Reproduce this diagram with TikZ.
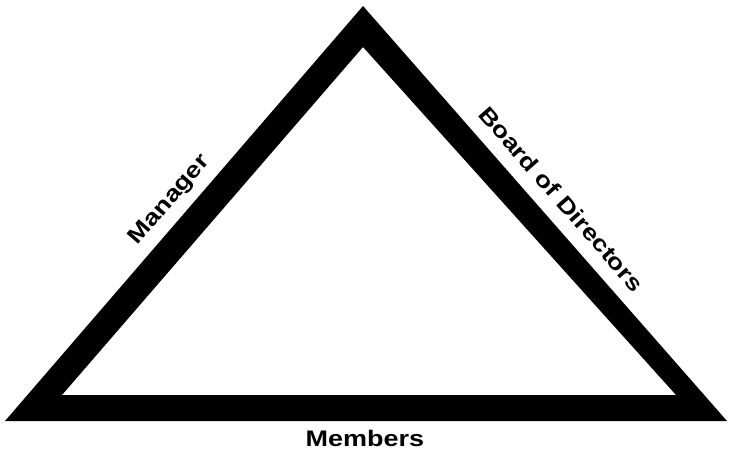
\documentclass[tikz,border=0pt]{standalone}
\usepackage{fontspec}
\setmainfont{Liberation Sans}[FakeStretch=1.2]
\begin{document}
\begin{tikzpicture}[x=1pt,y=-1pt,
  lab/.style={font=\fontsize{22.5}{24}\selectfont\bfseries, inner sep=0pt, anchor=base}]
\useasboundingbox (0,0) rectangle (730,451);
\coordinate (oL) at (5,421);
\coordinate (oT) at (363,6);
\coordinate (oR) at (727,421);
\coordinate (iL) at (62,395);
\coordinate (iT) at (363,47);
\coordinate (iR) at (676,395);
\fill[black, even odd rule] (oL) -- (oT) -- (oR) -- cycle (iL) -- (iT) -- (iR) -- cycle;
\node[lab, rotate=49.2] (manager) at (174,203.7) {Manager};
\node[lab, rotate=-48.7] (board) at (555.5,204.3) {Board of Directors};
\node[lab] (members) at (365,446) {Members};
\end{tikzpicture}
\end{document}
